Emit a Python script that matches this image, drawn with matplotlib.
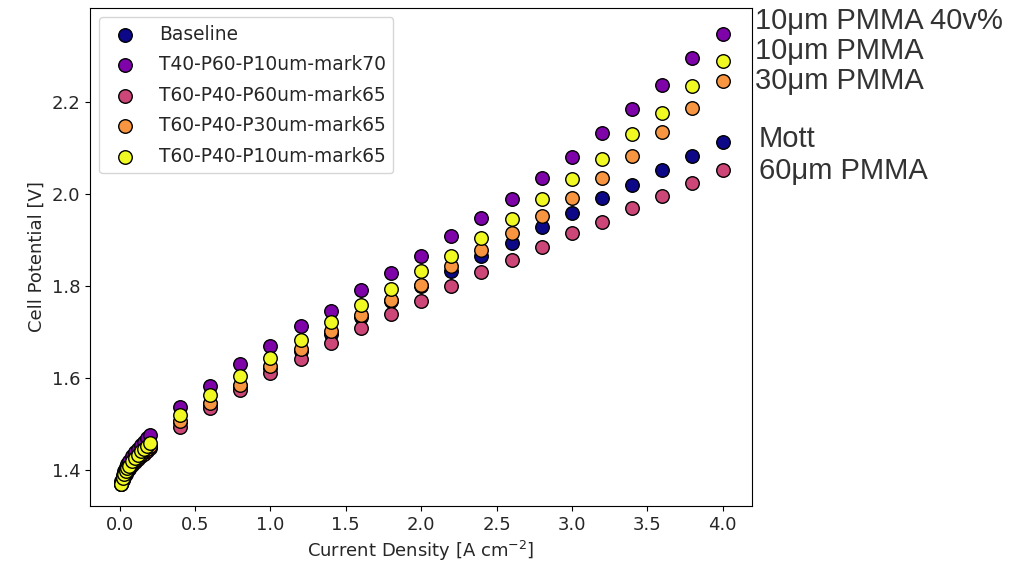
import numpy as np
import matplotlib
matplotlib.use("Agg")
import matplotlib.pyplot as plt

# ---------------- data ----------------
current_low = [0.01, 0.02, 0.03, 0.04, 0.05, 0.06, 0.08, 0.10, 0.12, 0.14, 0.16, 0.18, 0.20]
current_high = [0.4, 0.6, 0.8, 1.0, 1.2, 1.4, 1.6, 1.8, 2.0, 2.2, 2.4, 2.6, 2.8, 3.0,
                3.2, 3.4, 3.6, 3.8, 4.0]
current = current_low + current_high

baseline_low = [1.369, 1.379, 1.387, 1.394, 1.400, 1.405, 1.414, 1.421, 1.428, 1.434, 1.440, 1.446, 1.451]
baseline_high = [1.504, 1.543, 1.582, 1.621, 1.658, 1.695, 1.732, 1.767, 1.800, 1.832, 1.864,
                 1.893, 1.927, 1.959, 1.991, 2.020, 2.053, 2.082, 2.113]

t40_p10_low = [1.375, 1.388, 1.398, 1.406, 1.413, 1.419, 1.429, 1.438, 1.446, 1.453, 1.461, 1.468, 1.476]
t40_p10_high = [1.536, 1.583, 1.629, 1.669, 1.712, 1.745, 1.790, 1.827, 1.866, 1.908, 1.947,
                1.989, 2.035, 2.081, 2.132, 2.184, 2.238, 2.295, 2.349]

t60_p60_low = [1.368, 1.377, 1.385, 1.391, 1.397, 1.402, 1.410, 1.417, 1.423, 1.429, 1.435, 1.441, 1.447]
t60_p60_high = [1.493, 1.534, 1.573, 1.610, 1.641, 1.676, 1.709, 1.739, 1.768, 1.800, 1.830,
                1.856, 1.885, 1.914, 1.940, 1.970, 1.995, 2.024, 2.051]

t60_p30_low = [1.369, 1.379, 1.387, 1.394, 1.400, 1.405, 1.414, 1.421, 1.428, 1.434, 1.440, 1.446, 1.452]
t60_p30_high = [1.505, 1.545, 1.585, 1.625, 1.663, 1.701, 1.736, 1.769, 1.802, 1.843, 1.877,
                1.914, 1.953, 1.992, 2.035, 2.083, 2.135, 2.187, 2.245]

t60_p10_low = [1.370, 1.381, 1.390, 1.397, 1.403, 1.409, 1.418, 1.426, 1.433, 1.440, 1.446, 1.452, 1.458]
t60_p10_high = [1.518, 1.563, 1.605, 1.643, 1.683, 1.721, 1.758, 1.793, 1.833, 1.866, 1.904,
                1.946, 1.989, 2.032, 2.076, 2.130, 2.177, 2.234, 2.289]

labels = ["Baseline", "T40-P60-P10um-mark70", "T60-P40-P60um-mark65",
          "T60-P40-P30um-mark65", "T60-P40-P10um-mark65"]
series = [baseline_low + baseline_high,
          t40_p10_low + t40_p10_high,
          t60_p60_low + t60_p60_high,
          t60_p30_low + t60_p30_high,
          t60_p10_low + t60_p10_high]

annotations = ["10\u03bcm PMMA 40v%", "10\u03bcm PMMA", "30\u03bcm PMMA", "Mott", "60\u03bcm PMMA"]
annot_baseline_px = [29, 59.3, 89.3, 146.7, 179.3]
annot_x_px = [755, 755, 755, 759, 759]

# ---------------- plot ----------------
plt.rcParams["font.size"] = 13
plt.rcParams["text.color"] = "#262626"
plt.rcParams["axes.labelcolor"] = "#262626"
plt.rcParams["xtick.labelcolor"] = "#262626"
plt.rcParams["ytick.labelcolor"] = "#262626"

W, H = 1013, 570
fig = plt.figure(figsize=(W / 100, H / 100), dpi=100)
ax = fig.add_axes([90 / W, 1 - 506 / H, (752 - 90) / W, (506 - 8) / H])

colors = plt.cm.plasma(np.linspace(0, 1, 5))
for lab, vals, c in zip(labels, series, colors):
    ax.scatter(current, vals, s=95, color=c, edgecolors="black", linewidths=1.0,
               label=lab, zorder=3)

ax.set_xlim(-0.197, 4.195)
ax.set_ylim(1.3211, 2.4045)
ax.set_xticks(np.arange(0, 4.01, 0.5))
ax.set_yticks([1.4, 1.6, 1.8, 2.0, 2.2])
ax.set_xlabel("Current Density [A cm$^{-2}$]")
ax.set_ylabel("Cell Potential [V]")
ax.legend(loc="upper left", fontsize=13.4, labelspacing=0.62)

for txt, ypx, xpx in zip(annotations, annot_baseline_px, annot_x_px):
    fig.text(xpx / W, 1 - ypx / H, txt, fontsize=21, family="Liberation Sans",
             color="#333333", va="baseline", ha="left")

fig.savefig("out.png", dpi=100)
